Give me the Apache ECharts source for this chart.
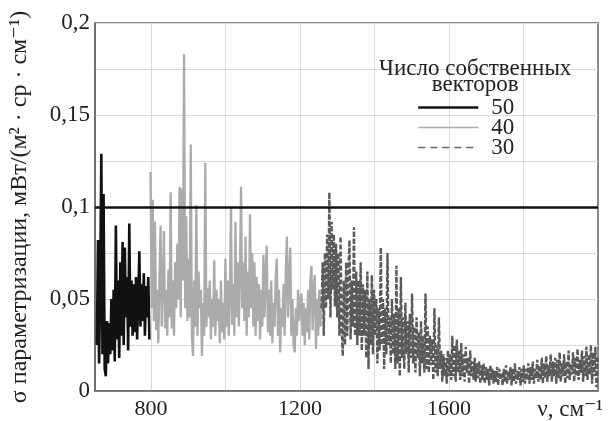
<!DOCTYPE html>
<html>
<head>
<meta charset="utf-8">
<script src="https://cdn.jsdelivr.net/npm/echarts@6/dist/echarts.min.js"></script>
<style>html,body{margin:0;padding:0;background:#fff}#c{width:614px;height:421px}</style>
</head>
<body>
<div id="c"></div>
<script>
// ---- data ----
const seriesNames = ['50', '40', '30'];
const nuStep = 3;                 // sampling step of the spectra, cm^-1
const nu50Start = 655;
const sigma50 = [0.025,0.082,0.015,0.060,0.129,0.020,0.107,0.012,0.008,0.038,0.015,0.037,0.020,0.050,0.022,0.055,0.016,0.090,0.028,0.060,0.018,0.070,0.030,0.081,0.025,0.078,0.040,0.062,0.022,0.091,0.035,0.060,0.030,0.058,0.032,0.062,0.028,0.050,0.076,0.035,0.058,0.038,0.064,0.030,0.057,0.040,0.062,0.028];
const nu40Start = 799;
const sigma40 = [0.119,0.045,0.104,0.038,0.092,0.033,0.055,0.026,0.062,0.090,0.035,0.058,0.087,0.034,0.055,0.030,0.066,0.040,0.108,0.034,0.060,0.030,0.070,0.045,0.080,0.050,0.111,0.040,0.110,0.060,0.183,0.045,0.095,0.038,0.072,0.040,0.134,0.030,0.019,0.060,0.035,0.101,0.030,0.065,0.045,0.055,0.019,0.048,0.030,0.124,0.035,0.056,0.040,0.060,0.028,0.050,0.035,0.071,0.030,0.055,0.038,0.050,0.026,0.060,0.032,0.048,0.028,0.072,0.035,0.060,0.030,0.055,0.100,0.036,0.058,0.030,0.092,0.040,0.070,0.035,0.065,0.111,0.045,0.070,0.038,0.084,0.030,0.065,0.040,0.096,0.045,0.075,0.035,0.070,0.030,0.062,0.038,0.058,0.028,0.055,0.035,0.074,0.040,0.065,0.079,0.032,0.055,0.030,0.060,0.026,0.048,0.035,0.062,0.072,0.030,0.055,0.021,0.045,0.035,0.058,0.030,0.065,0.084,0.040,0.060,0.078,0.030,0.050,0.025,0.021,0.045,0.030,0.055,0.038,0.050,0.053,0.030,0.048,0.025,0.045,0.032,0.055,0.028,0.060,0.068,0.033,0.055,0.063,0.023,0.050,0.030,0.055,0.035,0.050];
const nu30Start = 1258;
const sigma30 = [0.045,0.070,0.030,0.075,0.045,0.085,0.050,0.108,0.040,0.092,0.055,0.085,0.046,0.080,0.040,0.075,0.030,0.084,0.035,0.019,0.060,0.025,0.070,0.030,0.065,0.082,0.028,0.060,0.035,0.089,0.030,0.065,0.025,0.060,0.030,0.070,0.022,0.058,0.030,0.055,0.018,0.065,0.012,0.050,0.025,0.063,0.020,0.055,0.030,0.050,0.015,0.045,0.022,0.078,0.025,0.050,0.012,0.045,0.020,0.075,0.025,0.040,0.015,0.050,0.020,0.042,0.012,0.068,0.015,0.045,0.008,0.062,0.018,0.040,0.012,0.048,0.020,0.038,0.010,0.042,0.018,0.053,0.015,0.035,0.010,0.040,0.018,0.032,0.008,0.038,0.015,0.030,0.010,0.053,0.012,0.035,0.010,0.030,0.014,0.028,0.006,0.045,0.010,0.025,0.008,0.040,0.012,0.022,0.005,0.020,0.008,0.018,0.004,0.022,0.008,0.020,0.006,0.030,0.008,0.025,0.005,0.028,0.010,0.022,0.006,0.026,0.008,0.020,0.005,0.024,0.010,0.018,0.004,0.022,0.008,0.016,0.006,0.018,0.005,0.015,0.007,0.016,0.004,0.014,0.006,0.015,0.004,0.013,0.006,0.012,0.003,0.014,0.006,0.012,0.004,0.011,0.005,0.013,0.003,0.012,0.006,0.010,0.003,0.012,0.005,0.014,0.004,0.011,0.006,0.013,0.003,0.012,0.005,0.015,0.004,0.011,0.006,0.013,0.003,0.012,0.005,0.014,0.004,0.012,0.006,0.015,0.004,0.013,0.006,0.016,0.004,0.012,0.007,0.017,0.005,0.014,0.006,0.018,0.004,0.015,0.007,0.019,0.005,0.014,0.008,0.020,0.005,0.016,0.008,0.018,0.004,0.017,0.007,0.021,0.005,0.015,0.008,0.020,0.004,0.016,0.007,0.022,0.006,0.015,0.009,0.021,0.005,0.018,0.008,0.023,0.006,0.017,0.010,0.022,0.005,0.019,0.008,0.024,0.006,0.020,0.009,0.025,0.004,0.021,0.008,0.024,0.002,0.018];
const thresholdValue = 0.1;
const xTickValues = [800, 1200, 1600];
const xGridValues = [800, 1000, 1200, 1400, 1600, 1800];
const yTickValues = [0, 0.05, 0.1, 0.15, 0.2];
const yTickLabels = ['0', '0,05', '0,1', '0,15', '0,2'];
const legendTitle = 'Число собственных\nвекторов';
const xAxisTitle = 'ν, см⁻¹';
const yAxisTitle = 'σ параметризации, мВт/(м² · ср · см⁻¹)';

function pairs(start, vals) {
  return vals.map((v, i) => [start + i * nuStep, v]);
}

const FONT = '"Liberation Serif", "DejaVu Serif", serif';
const chart = echarts.init(document.getElementById('c'), null, {renderer: 'canvas'});
chart.setOption({
  animation: false,
  backgroundColor: '#fff',
  grid: {left: 92, right: 16, top: 23, bottom: 29, show: true, borderColor: '#666', borderWidth: 1.5, containLabel: false},
  xAxis: {
    type: 'value', min: 650, max: 2000,
    name: xAxisTitle, nameLocation: 'end', nameGap: 5,
    nameTextStyle: {fontFamily: FONT, fontSize: 23, color: '#222', align: 'right', verticalAlign: 'top', padding: [7, 0, 0, 0]},
    axisLine: {show: true, lineStyle: {color: '#666', width: 1.5}},
    axisTick: {show: false, customValues: xGridValues},
    axisLabel: {customValues: xTickValues, fontFamily: FONT, fontSize: 22, color: '#222', margin: 7,
      formatter: function (v) { return String(v); }},
    splitLine: {show: true, lineStyle: {color: '#d9d9d9', width: 1}}
  },
  yAxis: {
    type: 'value', min: 0, max: 0.2, interval: 0.025,
    name: yAxisTitle, nameLocation: 'middle', nameGap: 63, nameRotate: 90,
    nameTextStyle: {fontFamily: FONT, fontSize: 24, color: '#222'},
    axisLine: {show: true, lineStyle: {color: '#666', width: 1.5}},
    axisTick: {show: false},
    axisLabel: {
      fontFamily: FONT, fontSize: 23, color: '#222', margin: 5,
      formatter: function (v) {
        const i = yTickValues.findIndex(t => Math.abs(t - v) < 1e-6);
        return i >= 0 ? yTickLabels[i] : '';
      }
    },
    splitLine: {show: true, lineStyle: {color: '#d9d9d9', width: 1}}
  },
  legend: {
    orient: 'vertical', left: 417, top: 96, padding: 0,
    itemWidth: 60, itemHeight: 14, itemGap: -3,
    itemStyle: {opacity: 0},
    textStyle: {fontFamily: FONT, fontSize: 23, color: '#222', padding: [0, 0, 0, 8], lineHeight: 20},
    data: [
      {name: seriesNames[0], lineStyle: {width: 2.5, color: '#111'}},
      {name: seriesNames[1], lineStyle: {width: 1.5, color: '#ababab'}},
      {name: seriesNames[2], lineStyle: {width: 1.5, color: '#666', type: [7, 5]}}
    ]
  },
  graphic: [{
    type: 'text', left: 379, top: 57, z: 100,
    style: {text: legendTitle, font: '23px ' + FONT, fill: '#222', textAlign: 'center', lineHeight: 16, align: 'center'}
  }],
  series: [
    {
      name: seriesNames[0], type: 'line', symbol: 'none', data: pairs(nu50Start, sigma50),
      lineStyle: {color: '#111', width: 2.6}, itemStyle: {color: '#111'}, z: 3,
      markLine: {
        silent: true, symbol: 'none', label: {show: false},
        lineStyle: {color: '#111', width: 2.5, type: 'solid'},
        data: [{yAxis: thresholdValue}]
      }
    },
    {
      name: seriesNames[1], type: 'line', symbol: 'none', data: pairs(nu40Start, sigma40),
      lineStyle: {color: '#ababab', width: 2.3}, itemStyle: {color: '#ababab'}, z: 2
    },
    {
      name: seriesNames[2], type: 'line', symbol: 'none', data: pairs(nu30Start, sigma30),
      lineStyle: {color: '#5a5a5a', width: 2.4, type: [5, 2]}, itemStyle: {color: '#5a5a5a'}, z: 2
    }
  ]
});
</script>
</body>
</html>
